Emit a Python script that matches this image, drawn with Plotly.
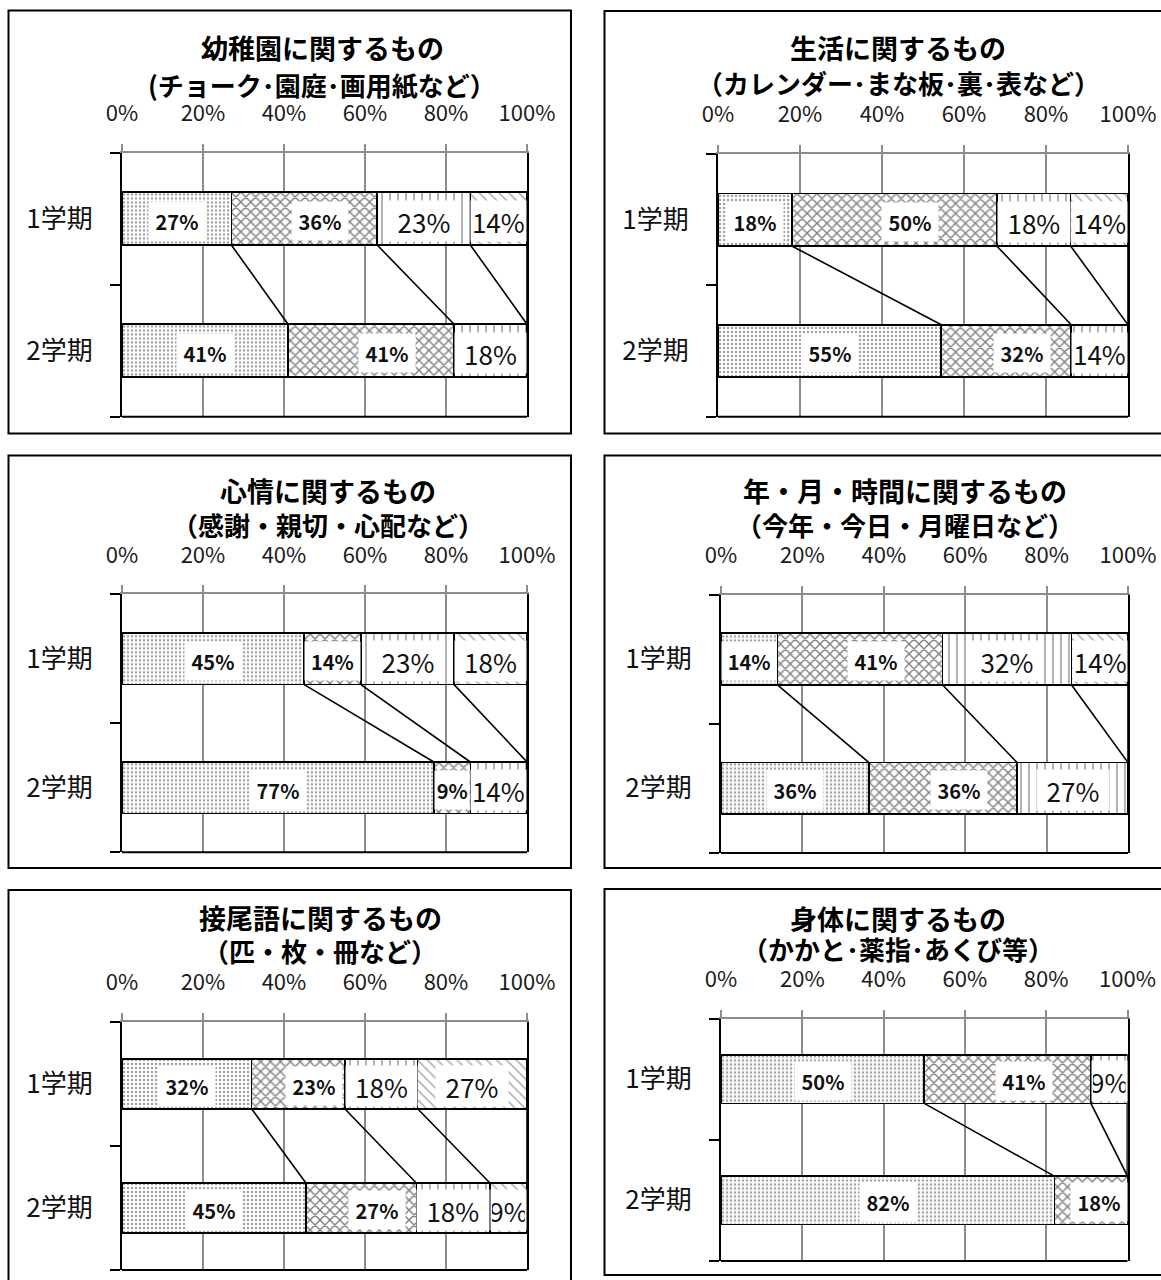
import plotly.graph_objects as go

W, H = 1161, 1280

# ---------------- data ----------------
terms = ["1学期", "2学期"]
series_names = ["区分1", "区分2", "区分3", "区分4"]
tick_vals = [0, 20, 40, 60, 80, 100]
tick_text = ["0%", "20%", "40%", "60%", "80%", "100%"]

title1 = ["幼稚園に関するもの", "生活に関するもの", "心情に関するもの",
          "年・月・時間に関するもの", "接尾語に関するもの", "身体に関するもの"]
title2 = ["(チョーク･園庭･画用紙など）", "（カレンダー･まな板･裏･表など）", "（感謝・親切・心配など）",
          "（今年・今日・月曜日など）", "（匹・枚・冊など）", "（かかと･薬指･あくび等）"]

# percentages per series (series1..series4) for each term
kinder_t1 = [27, 36, 23, 14]
kinder_t2 = [41, 41, 18, 0]
life_t1 = [18, 50, 18, 14]
life_t2 = [55, 32, 14, 0]
feel_t1 = [45, 14, 23, 18]
feel_t2 = [77, 9, 14, 0]
time_t1 = [14, 41, 32, 14]
time_t2 = [36, 36, 27, 0]
suffix_t1 = [32, 23, 18, 27]
suffix_t2 = [45, 27, 18, 9]
body_t1 = [50, 41, 9, 0]
body_t2 = [82, 18, 0, 0]

values = [(kinder_t1, kinder_t2), (life_t1, life_t2), (feel_t1, feel_t2),
          (time_t1, time_t2), (suffix_t1, suffix_t2), (body_t1, body_t2)]

# ---------------- layout (pixels) ----------------
# box: x0, y0, x1, y1 ; plot: x0, x1, y0, y1 ; title: cx, y_line1, y_line2
boxes = [(8.5, 10.5, 571, 433.5), (604.5, 11, 1175, 433.5),
         (8.5, 455.5, 571, 868), (604.5, 455.5, 1175, 868),
         (8.5, 890, 571, 1295), (604.5, 889, 1175, 1275)]
plots = [(122, 527, 152.5, 416.7), (718, 1128, 154, 416.7),
         (122, 527, 594.3, 852.3), (721, 1128, 594.5, 853),
         (122, 527, 1022, 1270), (721, 1127.5, 1018.5, 1261)]
title_pos = [(322, 48, 84), (898, 47, 82), (328, 490, 524),
             (905, 490, 524), (320, 917, 950), (898, 918, 948)]

FONT = "Noto Sans CJK JP"
PATTERNS = [
    dict(shape=".", size=4, solidity=0.32, fgcolor="#444444"),
    dict(shape="x", size=7, solidity=0.36, fgcolor="#000000"),
    dict(shape="|", size=8, solidity=0.16, fgcolor="#111111"),
    dict(shape="\\", size=7, solidity=0.22, fgcolor="#555555"),
]


def px_x(p):
    return p / W


def px_y(p):
    return 1 - p / H


fig = go.Figure()
shapes = []
annotations = []
BAR_W = 0.4

for i, ((t1, t2), box, pl, tp) in enumerate(zip(values, boxes, plots, title_pos), start=1):
    sfx = "" if i == 1 else str(i)
    xa, ya = "x" + sfx, "y" + sfx
    plot_w = pl[1] - pl[0]

    for k in range(4):
        fig.add_trace(go.Bar(
            x=[t1[k], t2[k]], y=[0, 1], orientation="h", width=BAR_W,
            xaxis=xa, yaxis=ya, name=series_names[k], showlegend=False,
            marker=dict(color="white", line=dict(color="black", width=1.6),
                        pattern=PATTERNS[k]),
            hoverinfo="skip",
        ))

    # series lines between the bars
    tot1, tot2 = sum(t1), sum(t2)
    c1 = c2 = 0.0
    for k in range(4):
        c1 += t1[k] / tot1 * 100
        c2 += t2[k] / tot2 * 100
        fig.add_trace(go.Scatter(
            x=[c1, c2], y=[BAR_W / 2, 1 - BAR_W / 2], mode="lines",
            line=dict(color="black", width=1.6), xaxis=xa, yaxis=ya,
            showlegend=False, hoverinfo="skip"))

    # data labels
    for row, (vals, tot) in enumerate(((t1, tot1), (t2, tot2))):
        cum = 0.0
        for k in range(4):
            v = vals[k]
            share = v / tot * 100
            if v > 0:
                seg_px = share / 100 * plot_w
                bold = k < 2
                w_def = 54 if bold else 70
                w = min(w_def, seg_px - 4)
                shift = 0
                if k == 1:
                    shift = min(16, max(0, (seg_px - w) / 2 - 2))
                annotations.append(dict(
                    x=cum + share / 2, y=row, xref=xa, yref=ya,
                    text=(f"<b>{v}%</b>" if bold else f"{v}%"),
                    showarrow=False, bgcolor="white", width=w,
                    height=36 if bold else 38, xshift=shift, yshift=-2,
                    font=dict(family=FONT, size=20 if bold else 26, color="#111111"),
                ))
            cum += share

    # axes
    fig.layout[("xaxis" + sfx)] = dict(
        domain=[px_x(pl[0]), px_x(pl[1])], anchor=ya, side="top",
        range=[0, 100], tickvals=tick_vals, ticktext=tick_text,
        showgrid=True, gridcolor="#8c8c8c", gridwidth=1.5,
        showline=True, linecolor="#8c8c8c", linewidth=2,
        ticks="outside", ticklen=7, tickwidth=1.5, tickcolor="#8c8c8c",
        ticklabelstandoff=14, automargin=False,
        tickfont=dict(family=FONT, size=22, color="#1a1a1a"),
        zeroline=False, fixedrange=True,
    )
    fig.layout[("yaxis" + sfx)] = dict(
        domain=[px_y(pl[3]), px_y(pl[2])], anchor=xa,
        range=[1.5, -0.5], tickvals=[0, 1], ticktext=terms,
        ticks="", showgrid=False, zeroline=False,
        showline=True, linecolor="black", linewidth=2, mirror=True,
        minor=dict(tickvals=[-0.5, 0.5, 1.5], ticks="outside", ticklen=10,
                   tickwidth=2, tickcolor="black", showgrid=False),
        ticklabelstandoff=22, automargin=False,
        tickfont=dict(family=FONT, size=26, color="#111111"),
        fixedrange=True,
    )

    # bottom frame line of plot area
    shapes.append(dict(type="line", xref=xa + " domain", yref=ya + " domain",
                       x0=0, x1=1, y0=0, y1=0, line=dict(color="black", width=2)))
    # chart box
    shapes.append(dict(type="rect", xref="paper", yref="paper",
                       x0=px_x(box[0]), x1=px_x(box[2]), y0=px_y(box[3]), y1=px_y(box[1]),
                       line=dict(color="black", width=2), layer="below"))
    # titles
    annotations.append(dict(x=px_x(tp[0]), y=px_y(tp[1]), xref="paper", yref="paper",
                            text=f"<b>{title1[i-1]}</b>", showarrow=False,
                            xanchor="center", yanchor="middle", borderpad=0,
                            font=dict(family=FONT, size=27, color="black")))
    annotations.append(dict(x=px_x(tp[0]), y=px_y(tp[2]), xref="paper", yref="paper",
                            text=f"<b>{title2[i-1]}</b>", showarrow=False,
                            xanchor="center", yanchor="middle", borderpad=0,
                            font=dict(family=FONT, size=26, color="black")))

fig.update_layout(
    width=W, height=H, margin=dict(l=0, r=0, t=0, b=0, autoexpand=False),
    paper_bgcolor="white", plot_bgcolor="white",
    barmode="stack", barnorm="percent", bargap=0.6,
    shapes=shapes, annotations=annotations, showlegend=False,
    font=dict(family=FONT),
)

fig.write_html("out.html")
